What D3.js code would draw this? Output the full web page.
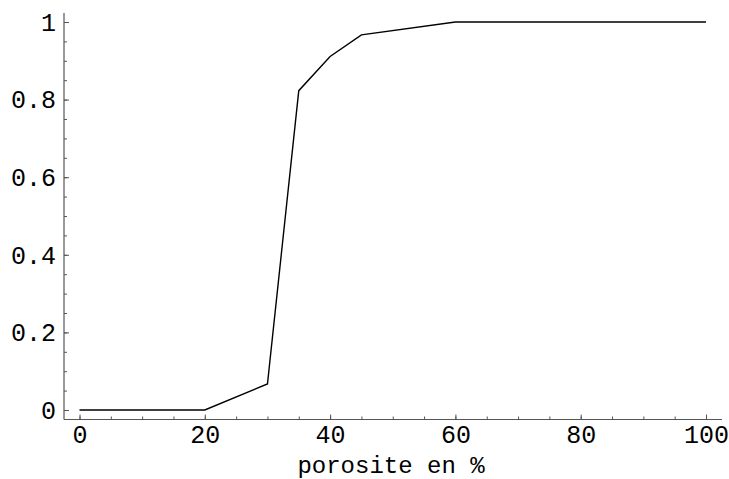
<!DOCTYPE html>
<html>
<head>
<meta charset="utf-8">
<script src="https://cdn.jsdelivr.net/npm/d3@7"></script>
<style>
  html, body { margin: 0; padding: 0; background: #fff; }
  svg { display: block; }
  text { font-family: "Liberation Mono", "DejaVu Sans Mono", monospace; fill: #000; }
</style>
</head>
<body>
<script>
// Data
const porosity = [0, 20, 30, 35, 40, 45, 60, 100];
const fraction = [0, 0, 0.067, 0.823, 0.911, 0.967, 1, 1];
const xMajorTicks = [0, 20, 40, 60, 80, 100];
const xMinorTicks = d3.range(0, 101, 5);
const yMajorTicks = [0, 0.2, 0.4, 0.6, 0.8, 1];
const yTickLabels = ["0", "0.2", "0.4", "0.6", "0.8", "1"];
const yMinorTicks = d3.range(0, 21).map(i => i * 0.05);
const xLabel = "porosite en %";

const W = 729, H = 479;
const svg = d3.select("body").append("svg").attr("width", W).attr("height", H);

const x = d3.scaleLinear().domain([0, 100]).range([79.5, 706]);
const y = d3.scaleLinear().domain([0, 1]).range([410, 22]);

const axisX = 64, axisY = 419.5;
const axisColor = "#555";

// axis lines
svg.append("line").attr("x1", axisX).attr("x2", axisX).attr("y1", 13).attr("y2", axisY)
  .attr("stroke", axisColor).attr("stroke-width", 1.2);
svg.append("line").attr("x1", axisX).attr("x2", 722).attr("y1", axisY).attr("y2", axisY)
  .attr("stroke", axisColor).attr("stroke-width", 1.2);

// Y axis minor ticks
const gyMinor = svg.append("g").attr("transform", `translate(${axisX},0)`)
  .call(d3.axisLeft(y).tickValues(yMinorTicks).tickSize(-3).tickFormat(""));
// Y axis major ticks with labels
const gyMajor = svg.append("g").attr("transform", `translate(${axisX},0)`)
  .call(d3.axisLeft(y).tickValues(yMajorTicks).tickSize(-5).tickPadding(8)
    .tickFormat((d, i) => yTickLabels[i]));

// X axis minor ticks
const gxMinor = svg.append("g").attr("transform", `translate(0,${axisY})`)
  .call(d3.axisBottom(x).tickValues(xMinorTicks).tickSize(-3).tickFormat(""));
// X axis major
const gxMajor = svg.append("g").attr("transform", `translate(0,${axisY})`)
  .call(d3.axisBottom(x).tickValues(xMajorTicks).tickSize(-5).tickPadding(8)
    .tickFormat(d3.format("d")));

[gyMinor, gyMajor, gxMinor, gxMajor].forEach(g => {
  g.select(".domain").remove();
  g.selectAll(".tick line").attr("stroke", axisColor).attr("stroke-width", 1);
  g.selectAll("text").attr("font-size", 25).attr("font-family", "Liberation Mono").attr("fill", "#000");
});
gyMajor.selectAll("text").attr("dy", "0.33em");
gxMajor.selectAll("text").attr("dy", "0.62em");

// line
const line = d3.line().x((d, i) => x(porosity[i])).y(d => y(d));
svg.append("path").datum(fraction).attr("d", line)
  .attr("fill", "none").attr("stroke", "#000").attr("stroke-width", 1.4)
  .attr("stroke-linejoin", "miter");

// x label
svg.append("text").attr("x", 391).attr("y", 473).attr("text-anchor", "middle")
  .attr("font-size", 24).text(xLabel);
</script>
</body>
</html>
